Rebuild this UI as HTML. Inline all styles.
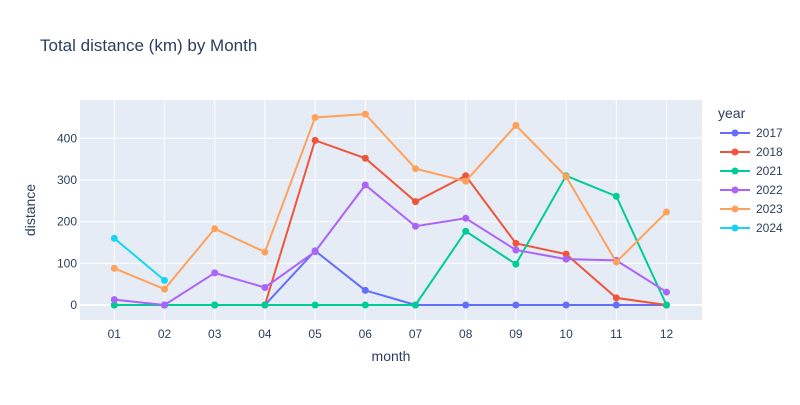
<!DOCTYPE html>
<html><head><meta charset="utf-8"><style>
body{margin:0;background:#fff;font-family:"Liberation Sans",sans-serif}
text{font-family:"Liberation Sans",sans-serif}
</style></head><body>
<svg id="chart" width="800" height="400" xmlns="http://www.w3.org/2000/svg">
<rect width="800" height="400" fill="#fff"/>
<text x="40" y="51" font-size="17" fill="#2a3f5f">Total distance (km) by Month</text>
<rect x="80" y="100" width="622" height="220" fill="#e5ecf6"/>
<g id="grid"></g><g id="series"></g><g id="axes"></g><g id="legend"></g>
<text x="391" y="361" font-size="14" fill="#2a3f5f" text-anchor="middle">month</text>
<text x="35" y="210" font-size="14" fill="#2a3f5f" text-anchor="middle" transform="rotate(-90 35 210)">distance</text>
</svg>
<script>
const months=["01","02","03","04","05","06","07","08","09","10","11","12"];
const yTicks=[0,100,200,300,400];
const years=["2017","2018","2021","2022","2023","2024"];
const colors=["#636efa","#EF553B","#00cc96","#ab63fa","#FFA15A","#19d3f3"];
const s2017=[0,0,0,0,130,35,0,0,0,0,0,0];
const s2018=[null,null,null,0,395,352,248,310,148,122,17,0];
const s2021=[0,0,0,0,0,0,0,177,98,310,261,0];
const s2022=[13,0,77,42,128,288,189,208,132,110,107,31];
const s2023=[88,38,183,127,450,458,327,297,431,308,103,223];
const s2024=[160,59];
const seriesData=[s2017,s2018,s2021,s2022,s2023,s2024];
const NS="http://www.w3.org/2000/svg";
const xs=i=>114.3+i*50.2;
const ys=v=>305-v*0.4168;
function mk(t,a,p){const e=document.createElementNS(NS,t);for(const k in a)e.setAttribute(k,a[k]);p.appendChild(e);return e;}
const grid=document.getElementById('grid'),axes=document.getElementById('axes'),ser=document.getElementById('series'),leg=document.getElementById('legend');
months.forEach((m,i)=>{
 const l=mk('line',{x1:xs(i),x2:xs(i),y1:100,y2:320,stroke:'#fff','stroke-width':1},grid);
 
 
 const t=mk('text',{x:xs(i),y:338,'font-size':12,fill:'#2a3f5f','text-anchor':'middle'},axes);
 
 
 t.textContent=m;
});
yTicks.forEach(v=>{
 const l=mk('line',{x1:80,x2:702,y1:ys(v),y2:ys(v),stroke:'#fff','stroke-width':v===0?2:1},grid);
 
 
 const t=mk('text',{x:77,y:ys(v)+4,'font-size':12,fill:'#2a3f5f','text-anchor':'end'},axes);
 
 
 t.textContent=v;
});
seriesData.forEach((d,si)=>{
 const g=mk('g',{},ser);
 
 
 let pts=[];d.forEach((v,i)=>{if(v!==null)pts.push(xs(i)+','+ys(v));});
 mk('polyline',{points:pts.join(' '),fill:'none',stroke:colors[si],'stroke-width':2},g);
 d.forEach((v,i)=>{if(v===null)return;
  const c=mk('circle',{cx:xs(i),cy:ys(v),r:3.5,fill:colors[si]},g);
  
  
 });
});
const lt=mk('text',{x:718,y:118,'font-size':14,fill:'#2a3f5f'},leg);


lt.textContent='year';
years.forEach((y,i)=>{
 const yy=133+i*19;
 const g=mk('g',{},leg);
 
 
 mk('line',{x1:720,x2:750,y1:yy,y2:yy,stroke:colors[i],'stroke-width':2},g);
 mk('circle',{cx:735,cy:yy,r:3.5,fill:colors[i]},g);
 const t=mk('text',{x:756,y:yy+4,'font-size':12,fill:'#2a3f5f'},g);
 t.textContent=y;
});
</script>
</body></html>
